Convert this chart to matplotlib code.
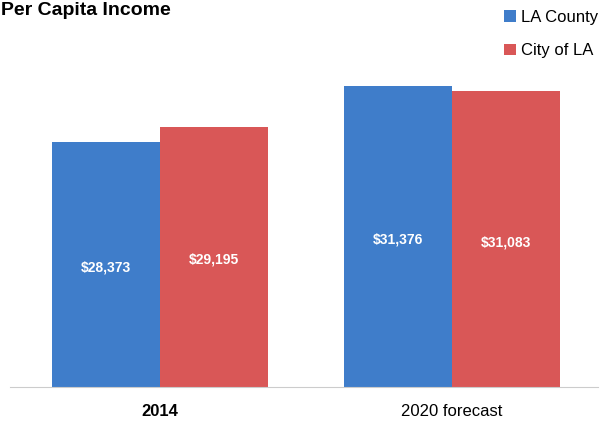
import matplotlib
matplotlib.use("Agg")
import matplotlib.pyplot as plt
import numpy as np

categories = ["2014", "2020 forecast"]
series_names = ["LA County", "City of LA"]
la_county = [28373, 31376]
city_la = [29195, 31083]
colors = ["#3f7dca", "#d95757"]

plt.rcParams['font.family'] = ['Liberation Sans', 'DejaVu Sans']

fig = plt.figure(figsize=(6.08, 4.25), dpi=100)
ax = fig.add_axes([10/608, 1-387/425, 588/608, 367/425])

x = np.arange(len(categories))
w = 108/292
b1 = ax.bar(x - w/2, la_county, w, color=colors[0], label=series_names[0])
b2 = ax.bar(x + w/2, city_la, w, color=colors[1], label=series_names[1])

ymin = 15236
ax.set_ylim(ymin, ymin + 367/0.01865)
ax.set_xlim((10-160)/292, (598-160)/292)

for bars, vals in [(b1, la_county), (b2, city_la)]:
    for rect, v in zip(bars, vals):
        ax.text(rect.get_x() + rect.get_width()/2, (ymin + v)/2 - 150, f"${v:,}",
                ha="center", va="center", color="white", fontsize=10, fontweight="bold")

for s in ["top", "right", "left"]:
    ax.spines[s].set_visible(False)
ax.spines["bottom"].set_color("#cccccc")
ax.set_yticks([])
ax.set_xticks(x)
ax.set_xticklabels(categories, fontsize=12)
ax.get_xticklabels()[0].set_fontweight("bold")
ax.tick_params(axis="x", length=0, pad=12)

fig.text(0.002, 1-2/425, "Per Capita Income", fontsize=14, fontweight="bold", va="top", ha="left")

leg = fig.legend(handles=[b1, b2], labels=series_names, loc="upper right",
                 bbox_to_anchor=(1.0, 1.0), frameon=False, fontsize=12,
                 handlelength=0.7, handleheight=0.7, handletextpad=0.3, labelspacing=1.1,
                 borderaxespad=0.2)

fig.savefig("out.png", dpi=100)
